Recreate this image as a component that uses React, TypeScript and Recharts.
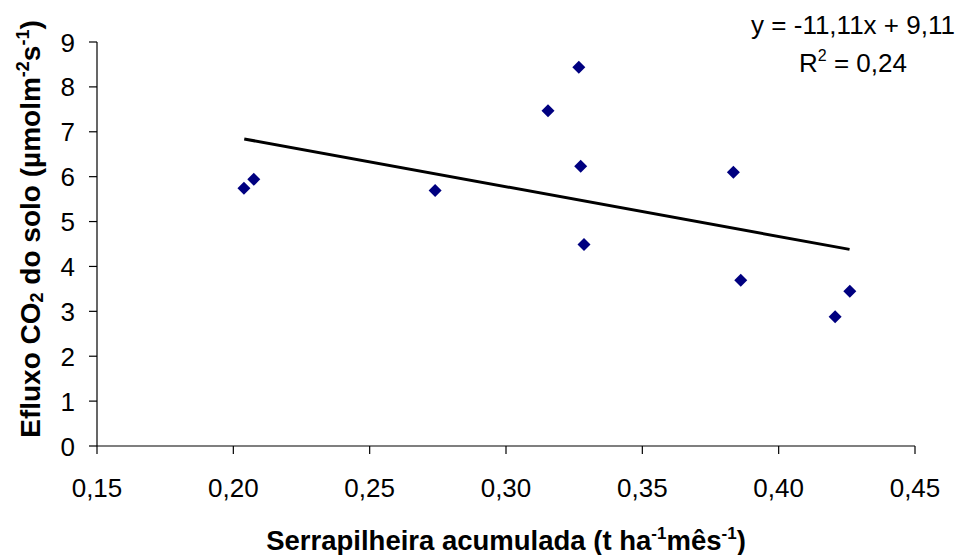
import { ScatterChart, Scatter, XAxis, YAxis, Label } from "recharts";

const FONT = "'Liberation Sans', Arial, sans-serif";

// serrapilheira acumulada (t ha-1 mês-1) vs efluxo de CO2 do solo
const SERRAPILHEIRA = [0.2039, 0.2075, 0.274, 0.3154, 0.3267, 0.3274, 0.3286, 0.3834, 0.3861, 0.4261, 0.4207];
const EFLUXO = [5.74, 5.94, 5.69, 7.47, 8.44, 6.23, 4.49, 6.1, 3.69, 3.45, 2.88];

// linha de tendência (ponta inicial e final)
const TREND_X = [0.204, 0.426];
const TREND_Y = [6.84, 4.38];

const X_TICKS = [0.15, 0.2, 0.25, 0.3, 0.35, 0.4, 0.45];
const Y_TICKS = [0, 1, 2, 3, 4, 5, 6, 7, 8, 9];

const EQUATION = "y = -11,11x + 9,11";
const R2_VALUE = "0,24";

const points = SERRAPILHEIRA.map((x, i) => ({ x, y: EFLUXO[i] }));
const trend = TREND_X.map((x, i) => ({ x, y: TREND_Y[i] }));

const fmtX = (v: number) => v.toFixed(2).replace(".", ",");

function Diamond(props: any) {
  const { cx, cy } = props;
  const r = 6.5;
  return (
    <polygon
      points={`${cx},${cy - r} ${cx + r},${cy} ${cx},${cy + r} ${cx - r},${cy}`}
      fill="#000080"
    />
  );
}

function XTick({ x, y, payload }: any) {
  return (
    <text x={x} y={y} dy={43} textAnchor="middle" fontSize={26} fill="#000" fontFamily={FONT}>
      {fmtX(payload.value)}
    </text>
  );
}

function YTick({ x, y, payload }: any) {
  return (
    <text x={x} y={y} dx={-14} dy={9.5} textAnchor="end" fontSize={26} fill="#000" fontFamily={FONT}>
      {payload.value}
    </text>
  );
}

function XTitle({ viewBox }: any) {
  const cx = viewBox.x + viewBox.width / 2;
  return (
    <text x={cx} y={viewBox.y + 104} textAnchor="middle" fontSize={27.5} fontWeight="bold" fill="#000" fontFamily={FONT}>
      Serrapilheira acumulada (t ha
      <tspan dy={-11} fontSize={17}>-1</tspan>
      <tspan dy={11}>mês</tspan>
      <tspan dy={-11} fontSize={17}>-1</tspan>
      <tspan dy={11}>)</tspan>
    </text>
  );
}

function YTitle({ viewBox }: any) {
  const cy = viewBox.y + viewBox.height / 2 - 15;
  const bx = 40;
  return (
    <text
      x={bx}
      y={cy}
      transform={`rotate(-90 ${bx} ${cy})`}
      textAnchor="middle"
      fontSize={28}
      fontWeight="bold"
      fill="#000"
      fontFamily={FONT}
    >
      Efluxo CO
      <tspan dy={3} fontSize={18}>2</tspan>
      <tspan dy={-3}> do solo (µmolm</tspan>
      <tspan dy={-11} fontSize={18}>-2</tspan>
      <tspan dy={11}>s</tspan>
      <tspan dy={-11} fontSize={18}>-1</tspan>
      <tspan dy={11}>)</tspan>
    </text>
  );
}

export default function App() {
  return (
    <div style={{ position: "fixed", left: 0, top: 0, width: 960, height: 555, background: "#fff" }}>
      <ScatterChart width={960} height={555} margin={{ top: 42, right: 45, bottom: 0, left: 0 }}>
        <XAxis
          type="number"
          dataKey="x"
          domain={[0.15, 0.45]}
          ticks={X_TICKS}
          allowDataOverflow
          height={109}
          tickSize={8}
          tickMargin={0}
          axisLine={{ stroke: "#000", strokeWidth: 1.2 }}
          tickLine={{ stroke: "#000", strokeWidth: 1.2 }}
          tick={<XTick />}
        >
          <Label content={<XTitle />} />
        </XAxis>
        <YAxis
          type="number"
          dataKey="y"
          domain={[0, 9]}
          ticks={Y_TICKS}
          allowDataOverflow
          width={97}
          tickSize={8}
          tickMargin={0}
          axisLine={{ stroke: "#000", strokeWidth: 1.2 }}
          tickLine={{ stroke: "#000", strokeWidth: 1.2 }}
          tick={<YTick />}
        >
          <Label content={<YTitle />} />
        </YAxis>
        <Scatter
          data={trend}
          line={{ stroke: "#000", strokeWidth: 3 }}
          shape={() => <g />}
          isAnimationActive={false}
        />
        <Scatter data={points} shape={<Diamond />} isAnimationActive={false} />
      </ScatterChart>
      <svg
        width={960}
        height={555}
        style={{ position: "absolute", left: 0, top: 0, pointerEvents: "none" }}
        fontFamily={FONT}
      >
        <text x={853} y={34} textAnchor="middle" fontSize={26} fill="#000">
          {EQUATION}
        </text>
        <text x={853} y={72} textAnchor="middle" fontSize={26} fill="#000">
          R<tspan dy={-11} fontSize={16}>2</tspan>
          <tspan dy={11}> = {R2_VALUE}</tspan>
        </text>
      </svg>
    </div>
  );
}
